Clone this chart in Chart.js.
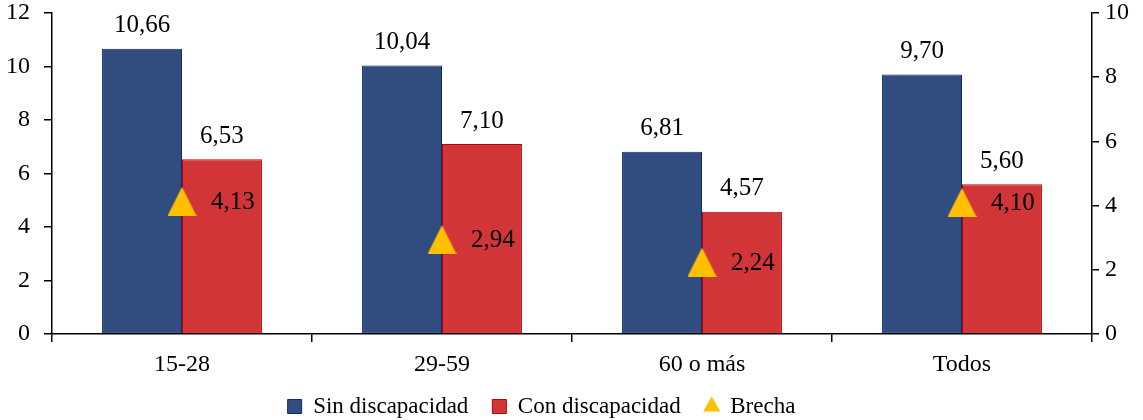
<!DOCTYPE html>
<html>
<head>
<meta charset="utf-8">
<script src="https://cdn.jsdelivr.net/npm/chart.js@4/dist/chart.umd.min.js"></script>
<style>
  html, body { margin: 0; padding: 0; background: #fff; }
  #wrap { width: 1143px; height: 420px; position: relative; }
</style>
</head>
<body>
<div id="wrap"><canvas id="chart"></canvas></div>
<script>
const categories = ['15-28', '29-59', '60 o más', 'Todos'];
const sinDiscapacidad = [10.66, 10.04, 6.81, 9.70];
const conDiscapacidad = [6.53, 7.10, 4.57, 5.60];
const brecha = [4.13, 2.94, 2.24, 4.10];

const FONT = 'Liberation Serif, Times New Roman, serif';
const fmt = v => v.toFixed(2).replace('.', ',');

// gold triangle marker for the gap series
function triangleMarker(size, color) {
  const c = document.createElement('canvas');
  c.width = size; c.height = size;
  const g = c.getContext('2d');
  g.fillStyle = color;
  g.beginPath();
  g.moveTo(size / 2, 0);
  g.lineTo(size, size);
  g.lineTo(0, size);
  g.closePath();
  g.fill();
  return c;
}

// value labels: above the bars, right of the triangles
const valueLabels = {
  id: 'valueLabels',
  afterDatasetsDraw(chart) {
    const ctx = chart.ctx;
    ctx.save();
    ctx.fillStyle = '#000';
    ctx.font = '25px ' + FONT;
    ctx.textBaseline = 'middle';
    chart.data.datasets.forEach((ds, i) => {
      const meta = chart.getDatasetMeta(i);
      meta.data.forEach((el, j) => {
        const txt = fmt(ds.data[j]);
        if (ds.type === 'line') {
          ctx.textAlign = 'left';
          ctx.fillText(txt, el.x + 29, el.y + 1);
        } else {
          ctx.textAlign = 'center';
          ctx.fillText(txt, el.x, el.y - 23);
        }
      });
    });
    ctx.restore();
  }
};

// nudge the legend row a little to the left
const legendShift = {
  id: 'legendShift',
  afterLayout(chart) {
    if (chart.legend) {
      chart.legend.left -= 30;
      chart.legend.right -= 30;
    }
  }
};

// fixed axis widths, and no extra room reserved for tick label overflow
const fixWidth = w => s => {
  s.width = w;
  s.paddingTop = 0;
  s.paddingBottom = 0;
};

const tickFont = { family: FONT, size: 24 };

new Chart(document.getElementById('chart'), {
  type: 'bar',
  data: {
    labels: categories,
    datasets: [
      {
        label: 'Sin discapacidad',
        data: sinDiscapacidad,
        backgroundColor: '#314C7E',
        borderColor: '#0E2A6B',
        borderWidth: 1,
        borderSkipped: false,
        pointStyle: 'rect',
        yAxisID: 'y',
        order: 2
      },
      {
        label: 'Con discapacidad',
        data: conDiscapacidad,
        backgroundColor: '#D13538',
        borderColor: '#C00000',
        borderWidth: 1,
        borderSkipped: false,
        pointStyle: 'rect',
        yAxisID: 'y',
        order: 2
      },
      {
        type: 'line',
        label: 'Brecha',
        data: brecha,
        showLine: false,
        pointStyle: triangleMarker(29, '#FFC000'),
        backgroundColor: '#FFC000',
        borderColor: '#FFC000',
        yAxisID: 'y1',
        order: 1
      }
    ]
  },
  options: {
    responsive: true,
    maintainAspectRatio: false,
    animation: false,
    categoryPercentage: 0.615,
    barPercentage: 1.0,
    layout: { autoPadding: false, padding: { top: 13, right: 0, left: 0, bottom: -8 } },
    plugins: {
      tooltip: { enabled: false },
      legend: {
        position: 'bottom',
        labels: {
          color: '#000',
          font: { family: FONT, size: 23 },
          usePointStyle: true,
          boxWidth: 14,
          boxHeight: 14,
          padding: 24,
          generateLabels(chart) {
            const items = Chart.defaults.plugins.legend.labels.generateLabels(chart);
            items.sort((a, b) => a.datasetIndex - b.datasetIndex);
            items.forEach(it => {
              if (it.text === 'Brecha') {
                it.pointStyle = 'triangle';
                it.lineWidth = 0;
              }
            });
            return items;
          }
        }
      }
    },
    scales: {
      x: {
        offset: true,
        grid: { offset: true, drawOnChartArea: false, tickLength: 8, color: '#000', lineWidth: 1.5 },
        border: { color: '#000', width: 1.5 },
        ticks: { color: '#000', font: tickFont, padding: 8 },
        afterFit(s) { s.height = 37; }
      },
      y: {
        position: 'left',
        min: 0, max: 12,
        ticks: { stepSize: 2, color: '#000', font: tickFont, padding: 14 },
        grid: { drawOnChartArea: false, tickLength: 8, color: '#000', lineWidth: 1.5 },
        border: { color: '#000', width: 1.5 },
        afterFit: fixWidth(52)
      },
      y1: {
        position: 'right',
        min: 0, max: 10,
        ticks: { stepSize: 2, color: '#000', font: tickFont, padding: 6 },
        grid: { drawOnChartArea: false, tickLength: 7, color: '#000', lineWidth: 1.5 },
        border: { color: '#000', width: 1.5 },
        afterFit: fixWidth(51)
      }
    }
  },
  plugins: [valueLabels, legendShift]
});
</script>
</body>
</html>
